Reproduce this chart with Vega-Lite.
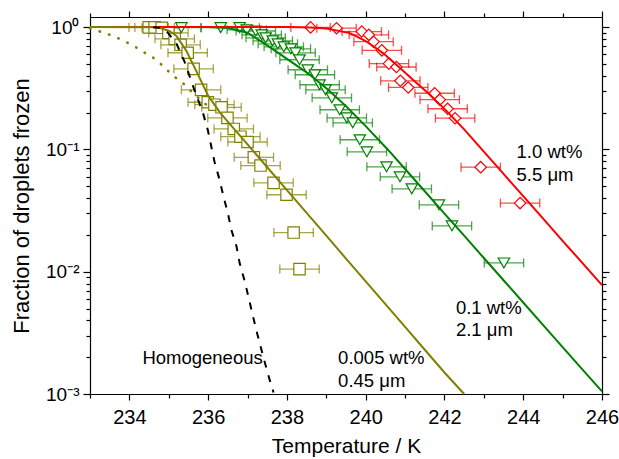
{
  "$schema": "https://vega.github.io/schema/vega-lite/v6.json",
  "width": 512,
  "height": 377,
  "autosize": {"type": "none"},
  "padding": {"left": 90, "top": 17, "right": 17, "bottom": 65},
  "config": {
    "view": {"stroke": null},
    "font": "Liberation Sans",
    "axis": {"grid": false, "domainColor": "black", "tickColor": "black", "labelColor": "black", "titleColor": "black", "labelFont": "Liberation Sans", "titleFont": "Liberation Sans", "titleFontWeight": "normal", "domainWidth": 1.2, "tickWidth": 1.2, "labelOverlap": false, "labelFlush": false, "labelBound": false}
  },
  "datasets": {
    "points": [
      {"s":"red","T":238.60,"f":0.995,"lo":238.10,"hi":239.10},
      {"s":"red","T":239.26,"f":0.98,"lo":238.76,"hi":239.76},
      {"s":"red","T":239.90,"f":0.92,"lo":239.40,"hi":240.40},
      {"s":"red","T":240.08,"f":0.865,"lo":239.58,"hi":240.58},
      {"s":"red","T":240.20,"f":0.76,"lo":239.70,"hi":240.70},
      {"s":"red","T":240.41,"f":0.646,"lo":239.91,"hi":240.91},
      {"s":"red","T":240.59,"f":0.503,"lo":240.09,"hi":241.09},
      {"s":"red","T":240.78,"f":0.472,"lo":240.28,"hi":241.28},
      {"s":"red","T":240.88,"f":0.364,"lo":240.38,"hi":241.38},
      {"s":"red","T":241.08,"f":0.321,"lo":240.58,"hi":241.58},
      {"s":"red","T":241.75,"f":0.288,"lo":241.25,"hi":242.25},
      {"s":"red","T":241.88,"f":0.255,"lo":241.38,"hi":242.38},
      {"s":"red","T":242.08,"f":0.215,"lo":241.58,"hi":242.58},
      {"s":"red","T":242.27,"f":0.180,"lo":241.77,"hi":242.77},
      {"s":"red","T":242.92,"f":0.0716,"lo":242.42,"hi":243.42},
      {"s":"red","T":243.92,"f":0.0364,"lo":243.42,"hi":244.42},
      {"s":"green","T":235.32,"f":0.99,"lo":234.82,"hi":235.82},
      {"s":"green","T":236.32,"f":0.99,"lo":235.82,"hi":236.82},
      {"s":"green","T":236.80,"f":0.99,"lo":236.30,"hi":237.30},
      {"s":"green","T":236.98,"f":0.95,"lo":236.48,"hi":237.48},
      {"s":"green","T":237.21,"f":0.93,"lo":236.71,"hi":237.71},
      {"s":"green","T":237.36,"f":0.865,"lo":236.86,"hi":237.86},
      {"s":"green","T":237.46,"f":0.818,"lo":236.96,"hi":237.96},
      {"s":"green","T":237.64,"f":0.773,"lo":237.14,"hi":238.14},
      {"s":"green","T":237.77,"f":0.730,"lo":237.27,"hi":238.27},
      {"s":"green","T":237.92,"f":0.690,"lo":237.42,"hi":238.42},
      {"s":"green","T":238.10,"f":0.665,"lo":237.60,"hi":238.60},
      {"s":"green","T":238.22,"f":0.616,"lo":237.72,"hi":238.72},
      {"s":"green","T":238.32,"f":0.541,"lo":237.82,"hi":238.82},
      {"s":"green","T":238.53,"f":0.448,"lo":238.03,"hi":239.03},
      {"s":"green","T":238.71,"f":0.408,"lo":238.21,"hi":239.21},
      {"s":"green","T":238.83,"f":0.338,"lo":238.33,"hi":239.33},
      {"s":"green","T":238.98,"f":0.307,"lo":238.48,"hi":239.48},
      {"s":"green","T":239.14,"f":0.264,"lo":238.64,"hi":239.64},
      {"s":"green","T":239.34,"f":0.211,"lo":238.84,"hi":239.84},
      {"s":"green","T":239.52,"f":0.181,"lo":239.02,"hi":240.02},
      {"s":"green","T":239.67,"f":0.165,"lo":239.17,"hi":240.17},
      {"s":"green","T":239.85,"f":0.120,"lo":239.35,"hi":240.35},
      {"s":"green","T":240.03,"f":0.0956,"lo":239.53,"hi":240.53},
      {"s":"green","T":240.53,"f":0.0721,"lo":240.03,"hi":241.03},
      {"s":"green","T":240.87,"f":0.0597,"lo":240.37,"hi":241.37},
      {"s":"green","T":241.17,"f":0.0476,"lo":240.67,"hi":241.67},
      {"s":"green","T":241.86,"f":0.0352,"lo":241.36,"hi":242.36},
      {"s":"green","T":242.19,"f":0.0237,"lo":241.69,"hi":242.69},
      {"s":"green","T":243.51,"f":0.0118,"lo":243.01,"hi":244.01},
      {"s":"olive","T":234.49,"f":0.995,"lo":233.99,"hi":234.99},
      {"s":"olive","T":234.64,"f":0.995,"lo":234.14,"hi":235.14},
      {"s":"olive","T":234.82,"f":0.987,"lo":234.32,"hi":235.32},
      {"s":"olive","T":234.99,"f":0.898,"lo":234.49,"hi":235.49},
      {"s":"olive","T":235.15,"f":0.802,"lo":234.65,"hi":235.65},
      {"s":"olive","T":235.30,"f":0.717,"lo":234.80,"hi":235.80},
      {"s":"olive","T":235.48,"f":0.617,"lo":234.98,"hi":235.98},
      {"s":"olive","T":235.63,"f":0.456,"lo":235.13,"hi":236.13},
      {"s":"olive","T":235.82,"f":0.307,"lo":235.32,"hi":236.32},
      {"s":"olive","T":235.99,"f":0.243,"lo":235.49,"hi":236.49},
      {"s":"olive","T":236.16,"f":0.232,"lo":235.66,"hi":236.66},
      {"s":"olive","T":236.34,"f":0.221,"lo":235.84,"hi":236.84},
      {"s":"olive","T":236.49,"f":0.181,"lo":235.99,"hi":236.99},
      {"s":"olive","T":236.65,"f":0.147,"lo":236.15,"hi":237.15},
      {"s":"olive","T":236.82,"f":0.127,"lo":236.32,"hi":237.32},
      {"s":"olive","T":237.00,"f":0.115,"lo":236.50,"hi":237.50},
      {"s":"olive","T":237.16,"f":0.0862,"lo":236.66,"hi":237.66},
      {"s":"olive","T":237.33,"f":0.0738,"lo":236.83,"hi":237.83},
      {"s":"olive","T":237.66,"f":0.0533,"lo":237.16,"hi":238.16},
      {"s":"olive","T":237.99,"f":0.0426,"lo":237.49,"hi":238.49},
      {"s":"olive","T":238.17,"f":0.0209,"lo":237.67,"hi":238.67},
      {"s":"olive","T":238.32,"f":0.0105,"lo":237.82,"hi":238.82}
    ],
    "curves": [
      {"s":"green","T":233.0,"f":1.0},{"s":"green","T":236.0,"f":1.0},{"s":"green","T":236.5,"f":0.985},{"s":"green","T":237.0,"f":0.90},{"s":"green","T":237.5,"f":0.71},{"s":"green","T":238.0,"f":0.55},{"s":"green","T":238.5,"f":0.427},{"s":"green","T":239.0,"f":0.316},{"s":"green","T":239.5,"f":0.226},{"s":"green","T":240.0,"f":0.155},{"s":"green","T":240.57,"f":0.099},{"s":"green","T":241.0,"f":0.0692},{"s":"green","T":241.5,"f":0.0455},{"s":"green","T":242.0,"f":0.0299},{"s":"green","T":242.5,"f":0.0197},{"s":"green","T":243.0,"f":0.01294},{"s":"green","T":243.5,"f":0.00851},{"s":"green","T":244.0,"f":0.0056},{"s":"green","T":244.5,"f":0.00368},{"s":"green","T":245.0,"f":0.00242},{"s":"green","T":245.5,"f":0.00159},{"s":"green","T":246.0,"f":0.00105},
      {"s":"red","T":233.0,"f":1.0},{"s":"red","T":238.0,"f":1.0},{"s":"red","T":238.6,"f":0.995},{"s":"red","T":239.0,"f":0.975},{"s":"red","T":239.6,"f":0.893},{"s":"red","T":240.0,"f":0.77},{"s":"red","T":240.44,"f":0.613},{"s":"red","T":240.78,"f":0.492},{"s":"red","T":241.2,"f":0.372},{"s":"red","T":241.6,"f":0.285},{"s":"red","T":242.05,"f":0.2065},{"s":"red","T":242.5,"f":0.146},{"s":"red","T":243.0,"f":0.0959},{"s":"red","T":243.5,"f":0.0631},{"s":"red","T":244.0,"f":0.0415},{"s":"red","T":244.5,"f":0.0273},{"s":"red","T":245.0,"f":0.0179},{"s":"red","T":245.5,"f":0.0118},{"s":"red","T":246.0,"f":0.00776},
      {"s":"olive","T":233.0,"f":1.0},{"s":"olive","T":234.6,"f":0.998},{"s":"olive","T":234.8,"f":0.98},{"s":"olive","T":235.0,"f":0.935},{"s":"olive","T":235.19,"f":0.851},{"s":"olive","T":235.44,"f":0.646},{"s":"olive","T":235.7,"f":0.437},{"s":"olive","T":236.0,"f":0.275},{"s":"olive","T":236.3,"f":0.2},{"s":"olive","T":236.68,"f":0.1446},{"s":"olive","T":237.0,"f":0.110},{"s":"olive","T":237.5,"f":0.0715},{"s":"olive","T":238.0,"f":0.0465},{"s":"olive","T":238.5,"f":0.0303},{"s":"olive","T":239.0,"f":0.0197},{"s":"olive","T":239.5,"f":0.0128},{"s":"olive","T":240.0,"f":0.00835},{"s":"olive","T":240.5,"f":0.00543},{"s":"olive","T":241.0,"f":0.00354},{"s":"olive","T":241.5,"f":0.0023},{"s":"olive","T":242.0,"f":0.0015},{"s":"olive","T":242.5,"f":0.001}
    ],
    "dotted": [
      {"T":233.0,"f":0.978},{"T":233.33,"f":0.903},{"T":233.58,"f":0.849},{"T":233.83,"f":0.78},{"T":234.09,"f":0.71},{"T":234.34,"f":0.631},{"T":234.6,"f":0.564},{"T":234.85,"f":0.483},{"T":235.08,"f":0.408},{"T":235.36,"f":0.348},{"T":235.61,"f":0.289},{"T":235.91,"f":0.239},{"T":236.11,"f":0.207}
    ],
    "homog": [
      {"T":234.6,"f":0.999},{"T":234.77,"f":0.99},{"T":234.95,"f":0.92},{"T":235.19,"f":0.74},{"T":235.4,"f":0.523},{"T":235.65,"f":0.307},{"T":235.87,"f":0.198},{"T":235.99,"f":0.1446},{"T":236.16,"f":0.0796},{"T":236.29,"f":0.0564},{"T":236.39,"f":0.0412},{"T":236.5,"f":0.0301},{"T":236.59,"f":0.022},{"T":236.72,"f":0.0161},{"T":236.8,"f":0.01175},{"T":236.93,"f":0.00832},{"T":237.22,"f":0.00335},{"T":237.43,"f":0.00185},{"T":237.56,"f":0.00131},{"T":237.66,"f":0.00103}
    ],
    "labels": [
      {"T":243.83,"f":0.0955,"text":"1.0 wt%"},
      {"T":243.83,"f":0.062,"text":"5.5 μm"},
      {"T":242.29,"f":0.00507,"text":"0.1 wt%"},
      {"T":242.29,"f":0.00335,"text":"2.1 μm"},
      {"T":239.30,"f":0.00198,"text":"0.005 wt%"},
      {"T":239.30,"f":0.00128,"text":"0.45 μm"},
      {"T":234.33,"f":0.00198,"text":"Homogeneous"}
    ]
  },
  "layer": [
    {
      "data": {"name": "points"},
      "mark": {"type": "rule", "strokeWidth": 1.3, "opacity": 0.7},
      "encoding": {
        "x": {"field": "lo", "type": "quantitative", "scale": {"domain": [233, 246], "nice": false, "zero": false},
          "axis": {"orient": "bottom", "title": "Temperature / K", "values": [233,234,235,236,237,238,239,240,241,242,243,244,245,246],
            "labelExpr": "datum.value % 2 == 0 ? datum.label : ''",
            "tickSize": {"condition": {"test": "datum.value % 2 == 0", "value": 6}, "value": 4},
            "labelFontSize": 20, "labelPadding": 7, "titleFontSize": 21, "titlePadding": 8}},
        "x2": {"field": "hi"},
        "y": {"field": "f", "type": "quantitative", "scale": {"type": "log", "domain": [0.001, 1.21], "nice": false},
          "axis": {"orient": "left", "title": "Fraction of droplets frozen",
            "values": [0.001,0.002,0.003,0.004,0.005,0.006,0.007,0.008,0.009,0.01,0.02,0.03,0.04,0.05,0.06,0.07,0.08,0.09,0.1,0.2,0.3,0.4,0.5,0.6,0.7,0.8,0.9,1],
            "labelExpr": "datum.value == 1 ? '10⁰' : datum.value == 0.1 ? '10⁻¹' : datum.value == 0.01 ? '10⁻²' : datum.value == 0.001 ? '10⁻³' : ''",
            "tickSize": {"condition": {"test": "indexof([1,0.1,0.01,0.001], datum.value) >= 0", "value": 7}, "value": 4},
            "labelFontSize": 19, "labelPadding": 4, "titleFontSize": 22, "titlePadding": 12}},
        "color": {"field": "s", "type": "nominal", "scale": {"domain": ["red","green","olive"], "range": ["#ff0000","#008000","#808000"]}, "legend": null}
      }
    },
    {
      "data": {"name": "points"},
      "mark": {"type": "tick", "orient": "vertical", "size": 9, "thickness": 1.3, "opacity": 0.7},
      "encoding": {
        "x": {"field": "lo", "type": "quantitative", "scale": {"domain": [233, 246], "nice": false, "zero": false},
          "axis": {"orient": "top", "title": null, "labels": false, "values": [233,234,235,236,237,238,239,240,241,242,243,244,245,246],
            "tickSize": {"condition": {"test": "datum.value % 2 == 0", "value": 6}, "value": 4}}},
        "y": {"field": "f", "type": "quantitative", "scale": {"type": "log", "domain": [0.001, 1.21], "nice": false},
          "axis": {"orient": "right", "title": null, "labels": false,
            "values": [0.001,0.002,0.003,0.004,0.005,0.006,0.007,0.008,0.009,0.01,0.02,0.03,0.04,0.05,0.06,0.07,0.08,0.09,0.1,0.2,0.3,0.4,0.5,0.6,0.7,0.8,0.9,1],
            "tickSize": {"condition": {"test": "indexof([1,0.1,0.01,0.001], datum.value) >= 0", "value": 7}, "value": 4}}},
        "color": {"field": "s", "type": "nominal", "scale": {"domain": ["red","green","olive"], "range": ["#ff0000","#008000","#808000"]}, "legend": null}
      }
    },
    {
      "data": {"name": "points"},
      "mark": {"type": "tick", "orient": "vertical", "size": 9, "thickness": 1.3, "opacity": 0.7},
      "encoding": {
        "x": {"field": "hi", "type": "quantitative", "axis": null},
        "y": {"field": "f", "type": "quantitative", "axis": null},
        "color": {"field": "s", "type": "nominal", "legend": null}
      }
    },
    {
      "data": {"name": "points"},
      "mark": {"type": "point", "fill": "white", "fillOpacity": 1, "opacity": 1, "strokeWidth": 1.2},
      "encoding": {
        "x": {"field": "T", "type": "quantitative", "axis": null},
        "y": {"field": "f", "type": "quantitative", "axis": null},
        "stroke": {"field": "s", "type": "nominal", "scale": {"domain": ["red","green","olive"], "range": ["#ff0000","#008000","#808000"]}, "legend": null},
        "shape": {"field": "s", "type": "nominal", "scale": {"domain": ["red","green","olive"], "range": ["diamond","triangle-down","square"]}, "legend": null},
        "size": {"field": "s", "type": "nominal", "scale": {"domain": ["red","green","olive"], "range": [130, 130, 52]}, "legend": null}
      }
    },
    {
      "data": {"name": "curves"},
      "transform": [{"filter": "datum.s == 'green'"}],
      "mark": {"type": "line", "color": "#008000", "strokeWidth": 2},
      "encoding": {"x": {"field": "T", "type": "quantitative", "axis": null}, "y": {"field": "f", "type": "quantitative", "axis": null}}
    },
    {
      "data": {"name": "curves"},
      "transform": [{"filter": "datum.s == 'red'"}],
      "mark": {"type": "line", "color": "#ff0000", "strokeWidth": 2},
      "encoding": {"x": {"field": "T", "type": "quantitative", "axis": null}, "y": {"field": "f", "type": "quantitative", "axis": null}}
    },
    {
      "data": {"name": "curves"},
      "transform": [{"filter": "datum.s == 'olive'"}],
      "mark": {"type": "line", "color": "#808000", "strokeWidth": 2},
      "encoding": {"x": {"field": "T", "type": "quantitative", "axis": null}, "y": {"field": "f", "type": "quantitative", "axis": null}}
    },
    {
      "data": {"name": "dotted"},
      "mark": {"type": "line", "color": "#808000", "strokeWidth": 2.6, "strokeDash": [0.5, 9.5], "strokeCap": "round"},
      "encoding": {"x": {"field": "T", "type": "quantitative", "axis": null}, "y": {"field": "f", "type": "quantitative", "axis": null}}
    },
    {
      "data": {"name": "homog"},
      "mark": {"type": "line", "color": "black", "strokeWidth": 2, "strokeDash": [7, 8]},
      "encoding": {"x": {"field": "T", "type": "quantitative", "axis": null}, "y": {"field": "f", "type": "quantitative", "axis": null}}
    },
    {
      "data": {"name": "labels"},
      "mark": {"type": "text", "align": "left", "baseline": "middle", "font": "Liberation Sans", "fontSize": 18.5, "color": "black"},
      "encoding": {"x": {"field": "T", "type": "quantitative", "axis": null}, "y": {"field": "f", "type": "quantitative", "axis": null}, "text": {"field": "text"}}
    }
  ],
  "resolve": {"axis": {"x": "independent", "y": "independent"}}
}
